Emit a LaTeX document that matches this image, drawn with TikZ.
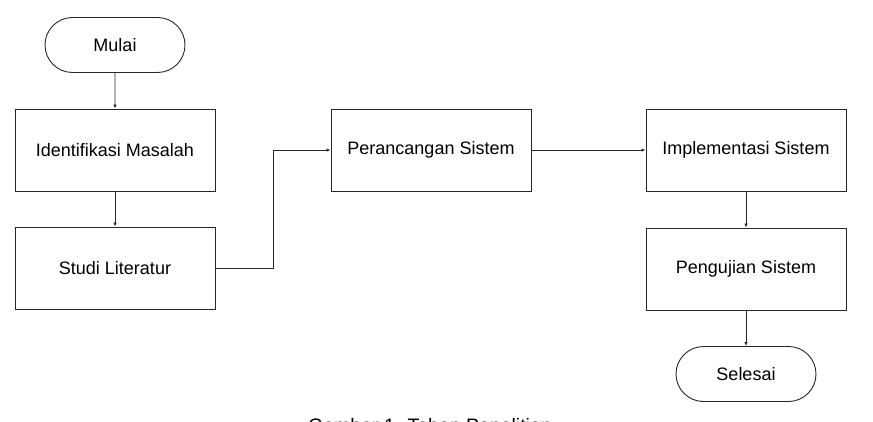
\documentclass[tikz,border=0pt]{standalone}
\usepackage{fontspec}
\setmainfont{Liberation Sans}
\usetikzlibrary{arrows.meta,shapes.misc}
\begin{document}
\begin{tikzpicture}[x=1pt,y=-1pt,
  box/.style={draw=black!85,line width=0.9pt,minimum width=200pt,minimum height=82pt,inner sep=0pt,font=\fontsize{18}{20}\selectfont},
  term/.style={draw=black!85,line width=0.9pt,rounded rectangle,minimum width=140pt,minimum height=55pt,inner sep=0pt,font=\fontsize{18}{20}\selectfont},
  conn/.style={draw=black!85,line width=0.9pt,-{Latex[length=4pt,width=3.5pt]}}]
\useasboundingbox (0,0) rectangle (873,422);
\node[term] (mulai) at (115,45) {Mulai};
\node[box] (ident) at (115,150) {Identifikasi Masalah};
\node[box] (studi) at (115,268) {Studi Literatur};
\node[box] (peran) at (431,150) {Perancangan Sistem};
\node[box] (impl) at (746,150) {Implementasi Sistem};
\node[box] (uji) at (746,269) {Pengujian Sistem};
\node[term] (selesai) at (746,374) {Selesai};
\coordinate (k) at (273,268);
\draw[conn] (mulai) -- (ident);
\draw[conn] (ident) -- (studi);
\draw[conn] (studi.east) -- (k) |- (peran.west);
\draw[conn] (peran) -- (impl);
\draw[conn] (impl) -- (uji);
\draw[conn] (uji) -- (selesai);
\begin{scope}
\clip (0,0) rectangle (873,422);
\node[anchor=base,font=\fontsize{19.5}{22}\selectfont] (cap) at (430,432) {Gambar 1. Tahap Penelitian};
\end{scope}
\end{tikzpicture}
\end{document}
